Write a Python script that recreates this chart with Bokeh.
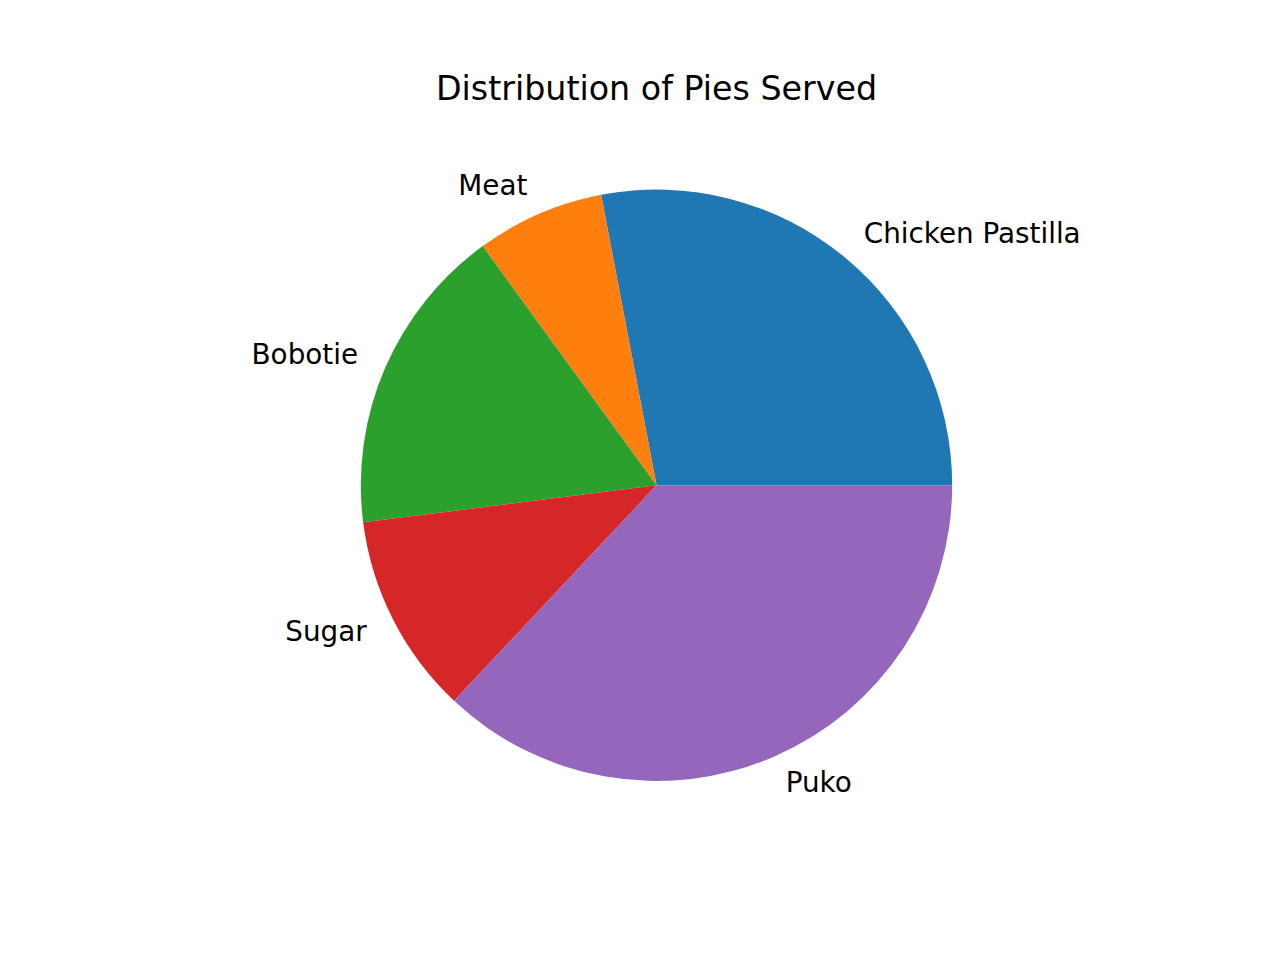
import math
from bokeh.plotting import figure
from bokeh.models import ColumnDataSource, Range1d
from bokeh.core.properties import value
from bokeh.embed import file_html
from bokeh.resources import INLINE

labels = ["Chicken Pastilla", "Meat", "Bobotie", "Sugar", "Puko"]
values = [28, 7, 17, 11, 37]
colors = ["#1f77b4", "#ff7f0e", "#2ca02c", "#d62728", "#9467bd"]
title = "Distribution of Pies Served"

W, H = 1280, 960
# matplotlib-like axes box
ax_l, ax_r, ax_b, ax_t = 0.125 * W, 0.9 * W, (1 - 0.11) * H, (1 - 0.88) * H
cx_px = (ax_l + ax_r) / 2
cy_px = (ax_b + ax_t) / 2
scale = (ax_b - ax_t) / 2.5  # pixels per data unit

x_range = Range1d(-cx_px / scale, (W - cx_px) / scale)
y_range = Range1d(-(H - cy_px) / scale, cy_px / scale)

total = float(sum(values))
starts, ends, lx, ly, aligns = [], [], [], [], []
acc = 0.0
for v in values:
    a0 = 2 * math.pi * acc / total
    acc += v
    a1 = 2 * math.pi * acc / total
    starts.append(a0)
    ends.append(a1)
    mid = (a0 + a1) / 2
    x = 1.1 * math.cos(mid)
    y = 1.1 * math.sin(mid)
    lx.append(x)
    ly.append(y)
    aligns.append("left" if x > 0 else "right")

src = ColumnDataSource(dict(start=starts, end=ends, color=colors, label=labels,
                            lx=lx, ly=ly, align=aligns, val=values))

p = figure(width=W, height=H, x_range=x_range, y_range=y_range,
           output_backend="svg", toolbar_location=None,
           x_axis_location=None, y_axis_location=None,
           min_border=0, outline_line_color=None, background_fill_color="white",
           border_fill_color="white")
p.grid.visible = False

p.wedge(x=0, y=0, radius=1, start_angle="start", end_angle="end",
        fill_color="color", line_color=None, source=src)

p.text(x="lx", y="ly", text="label", text_align="align", text_baseline="middle",
       y_offset=-1.5,
       text_font=value("DejaVu Sans"), text_font_size="27.8px", text_color="black",
       source=src)

title_y = (cy_px - (ax_t - 16.7)) / scale
p.text(x=[0], y=[title_y], text=[title], text_align="center", text_baseline="alphabetic",
       y_offset=-11,
       text_font=value("DejaVu Sans"), text_font_size="33.3px", text_color="black")

open("out.html", "w").write(file_html(p, INLINE))
